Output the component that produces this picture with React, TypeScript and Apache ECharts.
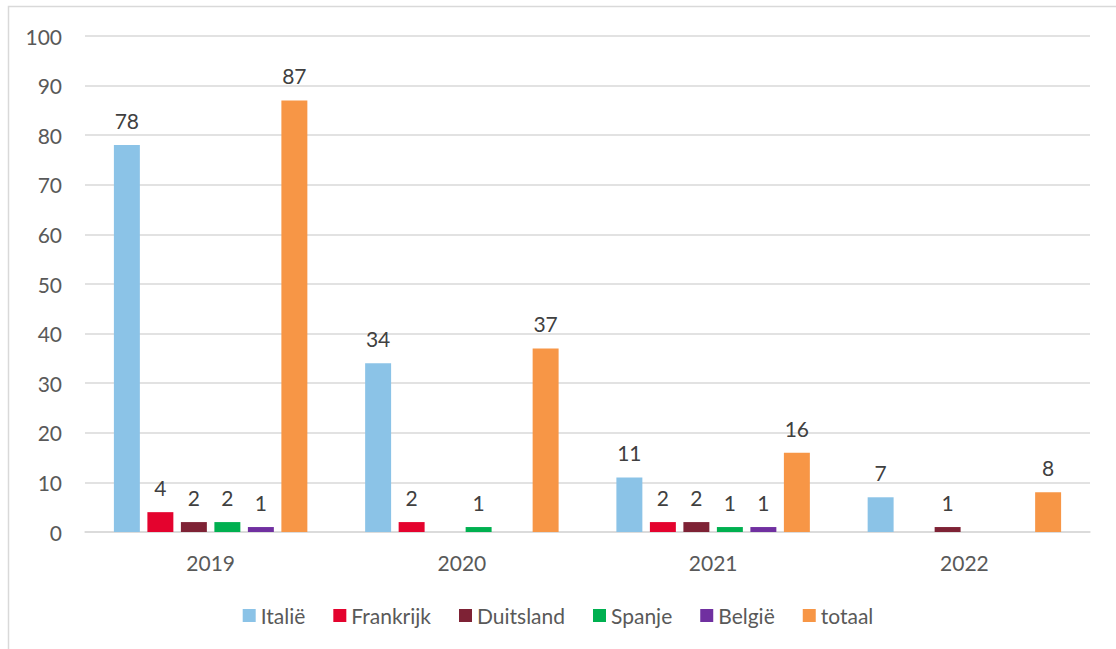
import React, { useEffect, useRef } from "react";
import * as echarts from "echarts";

const categories = ["2019", "2020", "2021", "2022"];
const seriesNames = ["Italië", "Frankrijk", "Duitsland", "Spanje", "België", "totaal"];
const italie = [78, 34, 11, 7];
const frankrijk = [4, 2, 2, null];
const duitsland = [2, null, 2, 1];
const spanje = [2, 1, 1, null];
const belgie = [1, null, 1, null];
const totaal = [87, 37, 16, 8];
const colors = ["#8BC3E7", "#E4032E", "#7E2235", "#00B050", "#7030A0", "#F79646"];

const FONT = "Lato, 'Noto Sans', sans-serif";
const FS = 21;

export default function App() {
  const ref = useRef<HTMLDivElement>(null);
  useEffect(() => {
    if (!ref.current) return;
    const chart = echarts.init(ref.current, undefined, { renderer: "svg" });
    const data = [italie, frankrijk, duitsland, spanje, belgie, totaal];
    chart.setOption({
      animation: false,
      backgroundColor: "#ffffff",
      textStyle: { fontFamily: FONT },
      graphic: [
        {
          type: "rect",
          shape: { x: 8.5, y: 6.5, width: 1200, height: 700 },
          style: { fill: "none", stroke: "#d9d9d9", lineWidth: 1.5 },
          silent: true,
        },
      ],
      grid: { left: 85, right: 26, top: 36, bottom: 117 },
      legend: {
        top: 600,
        left: "center",
        itemWidth: 13,
        itemHeight: 13,
        itemGap: 28,
        icon: "rect",
        textStyle: { fontSize: FS, color: "#595959", fontFamily: FONT },
        data: seriesNames,
      },
      xAxis: {
        type: "category",
        data: categories,
        axisTick: { show: false },
        axisLine: { lineStyle: { color: "#d9d9d9", width: 1.5 } },
        axisLabel: { fontSize: FS, color: "#595959", margin: 20, fontFamily: FONT },
      },
      yAxis: {
        type: "value",
        min: 0,
        max: 100,
        interval: 10,
        axisLine: { show: false },
        axisTick: { show: false },
        splitLine: { lineStyle: { color: "#d9d9d9", width: 1.5 } },
        axisLabel: { fontSize: FS, color: "#595959", margin: 23, fontFamily: FONT },
      },
      series: seriesNames.map((name, i) => ({
        name,
        type: "bar",
        data: data[i],
        barGap: "29%",
        barCategoryGap: "23%",
        itemStyle: { color: colors[i] },
        label: {
          show: true,
          position: "top",
          distance: 14,
          fontSize: FS,
          color: "#404040",
          fontFamily: FONT,
        },
      })),
    });
    return () => chart.dispose();
  }, []);
  return (
    <div
      ref={ref}
      style={{ position: "fixed", left: 0, top: 0, width: 1116, height: 649 }}
    />
  );
}
